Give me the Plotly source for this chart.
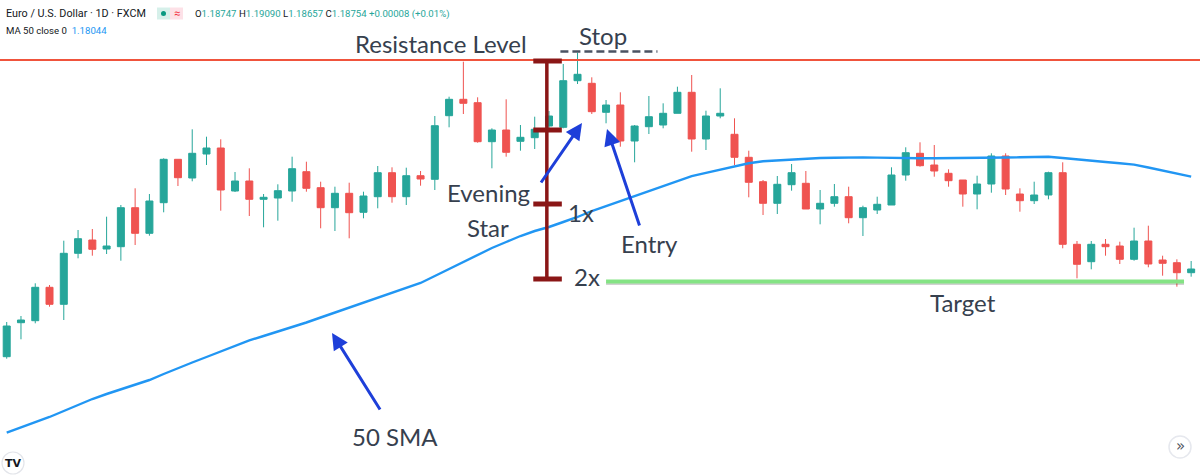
import plotly.graph_objects as go

# ---------------- data (EUR/USD daily candles) ----------------
bars = list(range(84))
opens = [1.21433,1.21773,1.21793,1.22127,1.21957,1.22467,1.226,1.2251,1.22533,1.22923,
         1.22667,1.22973,1.23407,1.2322,1.2346,1.2352,1.2309,1.2319,1.23007,1.2302,
         1.2309,1.23283,1.23123,1.22923,1.23067,1.22877,1.23033,1.23273,1.23033,1.23243,
         1.23207,1.23843,1.24007,1.23973,1.23583,1.237,1.23587,1.23623,1.2374,1.23727,
         1.24193,1.24167,1.23877,1.2395,1.2359,1.23733,1.2375,1.23867,1.24077,1.2361,
         1.2384,1.23657,1.23427,1.23183,1.22967,1.23153,1.23167,1.2291,1.22967,1.23033,
         1.22823,1.229,1.2295,1.2325,1.23467,1.2335,1.23267,1.232,1.2306,1.2316,
         1.2344,1.2306,1.22993,1.2305,1.23273,1.22557,1.22383,1.22557,1.2254,1.22407,
         1.2259,1.224,1.22373,1.22273]
highs = [1.2178,1.2184,1.22167,1.2215,1.22593,1.227,1.2271,1.22833,1.2295,1.23117,
         1.2306,1.23417,1.23407,1.23707,1.23633,1.23607,1.2328,1.23317,1.2306,1.23157,
         1.23433,1.23383,1.23183,1.23133,1.23173,1.23083,1.2334,1.23327,1.23323,1.2329,
         1.2384,1.24033,1.24383,1.24027,1.23717,1.24007,1.2375,1.23833,1.2389,1.2436,
         1.24473,1.24227,1.24,1.24077,1.2375,1.2404,1.23967,1.24133,1.2425,1.23893,
         1.24117,1.23817,1.23493,1.232,1.2324,1.2336,1.2329,1.231,1.2316,1.23133,
         1.22943,1.23033,1.23327,1.23527,1.23577,1.2355,1.23307,1.232,1.23243,1.23467,
         1.23467,1.23117,1.23183,1.23283,1.23377,1.2259,1.2259,1.2261,1.22583,1.22723,
         1.22743,1.22443,1.22407,1.2239]
lows = [1.21413,1.21607,1.21767,1.21933,1.218,1.22417,1.22443,1.2246,1.22393,1.2255,
        1.22643,1.22877,1.2314,1.23187,1.2335,1.22893,1.2308,1.2284,1.22727,1.22793,
        1.22983,1.23083,1.22717,1.2269,1.22617,1.22817,1.22917,1.22973,1.2295,1.23143,
        1.231,1.23727,1.2386,1.23573,1.23317,1.23433,1.23493,1.2351,1.237,1.23717,
        1.2416,1.2386,1.23767,1.23533,1.23377,1.2366,1.23717,1.23867,1.23483,1.235,
        1.23817,1.2335,1.23027,1.2285,1.2286,1.23093,1.2291,1.22757,1.22933,1.22767,
        1.2264,1.2286,1.2295,1.23193,1.23333,1.23233,1.23133,1.22933,1.22907,1.23073,
        1.2305,1.22883,1.2296,1.23007,1.22517,1.22217,1.22307,1.22443,1.2236,1.22393,
        1.22327,1.22243,1.22133,1.22233]
closes = [1.2174,1.218,1.22127,1.21957,1.22467,1.22613,1.22507,1.2254,1.22923,1.22667,
          1.2299,1.23407,1.23223,1.23467,1.2352,1.231,1.2319,1.23007,1.23027,1.23093,
          1.23313,1.23117,1.22923,1.23067,1.22873,1.2304,1.23273,1.23033,1.23243,1.2321,
          1.23743,1.24007,1.23967,1.23583,1.237,1.23477,1.23627,1.23707,1.2384,1.24193,
          1.24257,1.23883,1.2395,1.2359,1.2374,1.23833,1.23867,1.24077,1.2361,1.2384,
          1.23867,1.23427,1.23177,1.22967,1.23157,1.23273,1.2291,1.22967,1.23033,1.22823,
          1.22923,1.22957,1.2325,1.23473,1.23343,1.2329,1.23193,1.2306,1.2316,1.2344,
          1.2311,1.22993,1.2305,1.23273,1.22557,1.22357,1.22557,1.22533,1.22407,1.2259,
          1.2236,1.22367,1.22273,1.2231]
sma50 = [1.20674,1.20725,1.20777,1.2083,1.2089,1.2095,1.2101,1.2106,1.21105,1.2115,
         1.212,1.2126,1.2132,1.21375,1.2143,1.21485,1.2154,1.21597,1.2164,1.21684,
         1.21727,1.21775,1.21825,1.21875,1.2192,1.2197,1.2202,1.2207,1.2212,1.2217,
         1.2224,1.2231,1.2238,1.2245,1.2252,1.2258,1.2264,1.2269,1.2273,1.2278,
         1.2283,1.2289,1.2294,1.2299,1.23035,1.23085,1.2314,1.2319,1.23238,1.23272,
         1.23305,1.23337,1.23367,1.23388,1.23397,1.23407,1.23417,1.2342,1.23423,1.23426,
         1.23426,1.23424,1.2342,1.23417,1.23417,1.23417,1.2342,1.2342,1.23423,1.23423,
         1.23425,1.23427,1.2343,1.23433,1.2342,1.23405,1.23392,1.2338,1.23368,1.23354,
         1.23325,1.23295,1.23265,1.23234]

resistance_level = 1.2440
stop_level = 1.24485
measure_levels = [1.2439, 1.2370, 1.2296, 1.2221]   # top, first bar, 1x, 2x
target_level = 1.22185

header_title = "Euro / U.S. Dollar · 1D · FXCM"
ohlc_labels = ["O", "H", "L", "C"]
ohlc_values = ["1.18747", "1.19090", "1.18657", "1.18754"]
change_text = "+0.00008 (+0.01%)"
ma_label = "MA 50 close 0"
ma_value = "1.18044"

# ---------------- figure ----------------
W, H = 1200, 476
GREEN, RED = "#26a69a", "#ef5350"
TXT = "#36404e"
ARROW = "#1e3fd9"

def px(x):
    return x / W

def py(y):
    return 1 - y / H

fig = go.Figure()
fig.add_trace(go.Scatter(x=bars, y=sma50, mode="lines",
                         line=dict(color="#2196f3", width=2.4), hoverinfo="skip"))
fig.add_trace(go.Candlestick(
    x=bars, open=opens, high=highs, low=lows, close=closes,
    increasing=dict(line=dict(color=GREEN, width=1), fillcolor=GREEN),
    decreasing=dict(line=dict(color=RED, width=1), fillcolor=RED),
    whiskerwidth=0))

shapes = []
# resistance level
shapes.append(dict(type="line", xref="paper", x0=0, x1=1, yref="y",
                   y0=resistance_level, y1=resistance_level,
                   line=dict(color="#f0533c", width=2)))
# stop dashed line
shapes.append(dict(type="line", xref="x", x0=38.8, x1=45.6, yref="y",
                   y0=stop_level, y1=stop_level,
                   line=dict(color="#4b5362", width=2.6, dash="8px,4px")))
# target line (shadow + line)
shapes.append(dict(type="line", xref="x", x0=42.0, x1=82.5, yref="y",
                   y0=target_level - 0.0002, y1=target_level - 0.0002,
                   line=dict(color="rgba(0,0,0,0.18)", width=3)))
shapes.append(dict(type="line", xref="x", x0=42.0, x1=82.5, yref="y",
                   y0=target_level, y1=target_level,
                   line=dict(color="#84e384", width=4)))
# measurement bar
bar_x = 37.85
shapes.append(dict(type="line", xref="x", x0=bar_x, x1=bar_x, yref="y",
                   y0=measure_levels[0], y1=measure_levels[-1],
                   line=dict(color="#8a1616", width=3.5)))
for lv in measure_levels:
    shapes.append(dict(type="line", xref="x", x0=36.9, x1=38.9, yref="y",
                       y0=lv, y1=lv, line=dict(color="#8a1616", width=5)))

# header pills
shapes.append(dict(type="rect", xref="paper", yref="paper",
                   x0=px(157), x1=px(170), y0=py(19.5), y1=py(7.5),
                   fillcolor="#d6f0ea", line=dict(width=0)))
shapes.append(dict(type="rect", xref="paper", yref="paper",
                   x0=px(170), x1=px(183), y0=py(19.5), y1=py(7.5),
                   fillcolor="#fde1e7", line=dict(width=0)))
shapes.append(dict(type="circle", xref="paper", yref="paper",
                   x0=px(161), x1=px(166), y0=py(16), y1=py(11),
                   fillcolor="#089981", line=dict(width=0)))
# TV logo and scroll button circles
shapes.append(dict(type="circle", xref="paper", yref="paper",
                   x0=px(2), x1=px(24), y0=py(474), y1=py(452),
                   fillcolor="white", line=dict(color="#e3e5ea", width=1.2)))
shapes.append(dict(type="circle", xref="paper", yref="paper",
                   x0=px(1169), x1=px(1191), y0=py(458), y1=py(436),
                   fillcolor="white", line=dict(color="#e6e8ee", width=1.5)))

ann = []
def label(text, x, y, size=24, color=TXT, xanchor="center", font="Lato"):
    ann.append(dict(text=text, xref="paper", yref="paper", x=px(x), y=py(y),
                    xanchor=xanchor, yanchor="middle", showarrow=False,
                    font=dict(family=font, size=size, color=color)))

label("Resistance Level", 441, 43)
label("Stop", 603, 36)
label("Evening", 488, 192)
label("Star", 488, 227)
label("1x", 581, 213)
label("2x", 587, 276)
label("Entry", 649, 244)
label("Target", 963, 302)
label("50 SMA", 395, 436)

def arrow(hx, hy, tx, ty):
    ann.append(dict(text="", xref="paper", yref="paper", x=px(hx), y=py(hy),
                    ax=tx - hx, ay=ty - hy, showarrow=True, arrowhead=2,
                    arrowsize=1.1, arrowwidth=3, arrowcolor=ARROW))

arrow(582, 123, 540, 184)
arrow(607, 129, 640, 227)
arrow(332, 333, 381, 411)

# header text
label(header_title, 4, 13, size=10.8, color="#131722", xanchor="left", font="Roboto")
label("≈", 176.5, 13, size=11, color="#f23645", font="Roboto")
ohlc = "".join(f"<span style='color:#131722'>{l}</span><span style='color:{GREEN}'>{v}</span> "
               for l, v in zip(ohlc_labels, ohlc_values))
ohlc += f"<span style='color:{GREEN}'>{change_text}</span>"
label(ohlc, 193, 14, size=9.6, color=GREEN, xanchor="left", font="Roboto")
label(ma_label + "  " + f"<span style='color:#2196f3'>{ma_value}</span>", 4, 30,
      size=9.6, color="#131722", xanchor="left", font="Roboto")
label("<b>TV</b>", 13, 463, size=11, color="#131722", font="DejaVu Sans")
label("»", 1180, 446, size=15, color="#50535e", font="DejaVu Sans")

fig.update_layout(
    width=W, height=H, margin=dict(l=0, r=0, t=0, b=0),
    paper_bgcolor="white", plot_bgcolor="white", showlegend=False,
    shapes=shapes, annotations=ann,
    xaxis=dict(range=[-0.47, 83.62], visible=False, rangeslider=dict(visible=False),
               fixedrange=True),
    yaxis=dict(range=[1.2024, 1.25], visible=False, fixedrange=True),
)
fig.write_html("out.html")
